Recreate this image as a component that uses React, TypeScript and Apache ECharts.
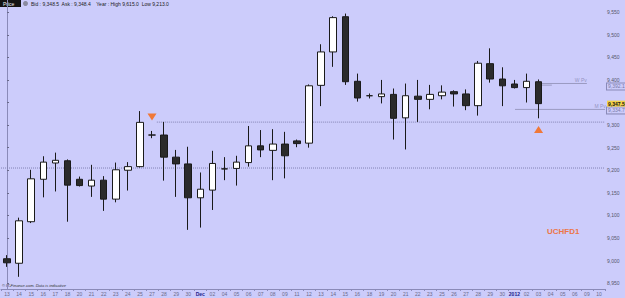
import React, { useEffect, useRef } from "react";
import * as echarts from "echarts";

// ---- data ----
const dates = [
  "13", "14", "15", "16", "17", "18", "20", "21", "22", "23", "24", "25", "27", "28", "29", "30",
  "Dec", "02", "04", "05", "06", "07", "08", "09", "11", "12", "13", "14", "15", "16", "18", "19",
  "20", "21", "22", "23", "25", "26", "27", "28", "29", "30", "2012", "02", "03", "04", "05", "06", "09", "10",
];

// [open, close, low, high]
const candles = [
  [9004, 8995, 8986, 9012],
  [8994, 9088, 8964, 9095],
  [9086, 9181, 9083, 9201],
  [9180, 9218, 9140, 9231],
  [9216, 9222, 9153, 9239],
  [9221, 9167, 9086, 9224],
  [9180, 9166, 9164, 9186],
  [9165, 9178, 9141, 9212],
  [9178, 9136, 9110, 9187],
  [9136, 9201, 9129, 9217],
  [9200, 9208, 9155, 9218],
  [9208, 9306, 9206, 9331],
  [9278, 9278, 9271, 9287],
  [9278, 9229, 9177, 9307],
  [9229, 9214, 9141, 9245],
  [9214, 9139, 9068, 9252],
  [9139, 9158, 9073, 9195],
  [9156, 9215, 9112, 9243],
  [9203, 9203, 9178, 9229],
  [9204, 9218, 9166, 9232],
  [9217, 9254, 9208, 9298],
  [9254, 9245, 9229, 9289],
  [9244, 9258, 9178, 9291],
  [9258, 9232, 9182, 9285],
  [9265, 9259, 9251, 9268],
  [9260, 9387, 9250, 9390],
  [9388, 9462, 9342, 9479],
  [9462, 9538, 9429, 9541],
  [9540, 9396, 9389, 9547],
  [9397, 9360, 9352, 9414],
  [9365, 9365, 9359, 9370],
  [9363, 9369, 9348, 9400],
  [9368, 9315, 9268, 9381],
  [9316, 9365, 9246, 9392],
  [9364, 9357, 9307, 9400],
  [9357, 9368, 9335, 9389],
  [9365, 9373, 9357, 9388],
  [9374, 9369, 9341, 9377],
  [9369, 9343, 9333, 9379],
  [9343, 9437, 9321, 9442],
  [9436, 9402, 9394, 9470],
  [9402, 9387, 9342, 9428],
  [9391, 9383, 9381, 9400],
  [9383, 9397, 9350, 9414],
  [9396, 9347.5, 9315, 9401],
];

const yTicks = [8950, 9000, 9050, 9100, 9150, 9200, 9250, 9300, 9350, 9400, 9450, 9500, 9550];
// 9,350 is hidden behind the last-price tag in the reference
const yLabels = [8950, 9000, 9050, 9100, 9150, 9200, 9250, 9300, 9400, 9450, 9500, 9550];

const lastPrice = 9347.5;
const weeklyPivot = 9392.1;
const monthlyPivot = 9334.7;

// level lines, x in category-index units
const resistanceLine = [[12.4, 9306.6], [49.5, 9306.6]];
const supportLine = [[-0.5, 9204.9], [49.5, 9204.9]];
const wPivotLine = [[43.95, weeklyPivot], [48.0, weeklyPivot]];
const wShortLine = [[43.95, 9388.5], [45.1, 9388.5]];
const mPivotLine = [[42.05, monthlyPivot], [49.5, monthlyPivot]];
const pivotLabels = [
  { value: [47.5, 9399.6], text: "W Pv" },
  { value: [49.1, 9342.7], text: "M Pv" },
];

// signals: [category index, value]
const sellSignal = [12, 9318];
const buySignal = [44, 9290];

const FONT = "'Liberation Sans', Arial, sans-serif";
const BG = "#CCCCFB";
const fmt = (v: number, d = 0) =>
  v.toLocaleString("en-US", { minimumFractionDigits: d, maximumFractionDigits: d });

function levelSeries(data: number[][], color: string, type: string) {
  return {
    type: "line",
    xAxisIndex: 1,
    yAxisIndex: 0,
    data,
    symbol: "none",
    silent: true,
    lineStyle: { color, width: 1, type },
    z: 1,
  };
}

export default function App() {
  const ref = useRef<HTMLDivElement>(null);
  useEffect(() => {
    if (!ref.current) return;
    const chart = echarts.init(ref.current, null, { renderer: "svg" });
    chart.setOption({
      animation: false,
      backgroundColor: BG,
      textStyle: { fontFamily: FONT },
      grid: { left: 1, top: 0, width: 604, height: 289, containLabel: false },
      xAxis: [
        {
          type: "category",
          data: dates,
          boundaryGap: true,
          axisLine: { lineStyle: { color: "#8A8AB8" } },
          axisTick: { show: true, interval: 0, length: 2, lineStyle: { color: "#8A8AB8" } },
          axisLabel: {
            interval: 0,
            fontSize: 5,
            color: "#6a6a8a",
            margin: 2,
            fontFamily: FONT,
            formatter: (v: string) => (v === "Dec" || v === "2012" ? `{h|${v}}` : v),
            rich: { h: { fontSize: 5, color: "#22228a", fontWeight: "bold", fontFamily: FONT } },
          },
          splitLine: { show: false },
        },
        { type: "value", min: -0.5, max: 49.5, show: false },
      ],
      yAxis: {
        type: "value",
        position: "right",
        min: 8937,
        max: 9577,
        axisLine: { show: true, lineStyle: { color: "#8A8AB8" } },
        axisTick: { show: true, length: 2, customValues: yTicks, lineStyle: { color: "#6a6a8a" } },
        axisLabel: {
          customValues: yLabels,
          fontSize: 5,
          color: "#55556a",
          margin: 2,
          fontFamily: FONT,
          formatter: (v: number) => fmt(v),
        },
        splitLine: { show: false },
      },
      series: [
        levelSeries(supportLine, "#8484b4", "dotted"),
        levelSeries(resistanceLine, "#8484b4", "dotted"),
        levelSeries(wPivotLine, "#9a9ac2", "solid"),
        levelSeries(wShortLine, "#9a9ac2", "solid"),
        levelSeries(mPivotLine, "#9a9ac2", "solid"),
        {
          type: "scatter",
          xAxisIndex: 1,
          yAxisIndex: 0,
          symbolSize: 0,
          silent: true,
          data: pivotLabels.map((p) => ({ value: p.value, name: p.text })),
          label: {
            show: true,
            position: "inside",
            formatter: (p: any) => p.name,
            fontSize: 5,
            color: "#8585b0",
            fontFamily: FONT,
          },
        },
        {
          type: "candlestick",
          xAxisIndex: 0,
          yAxisIndex: 0,
          data: candles,
          barWidth: 7,
          z: 3,
          itemStyle: {
            color: "#ffffff",
            color0: "#2b2b2b",
            borderColor: "#1a1a1a",
            borderColor0: "#1a1a1a",
            borderWidth: 1,
          },
          markPoint: {
            silent: true,
            symbol: "triangle",
            symbolSize: [9, 7],
            itemStyle: { color: "#F07838" },
            label: { show: false },
            data: [
              { coord: sellSignal, symbolRotate: 180 },
              { coord: buySignal },
            ],
          },
          markLine: {
            silent: true,
            symbol: "none",
            lineStyle: { color: "rgba(0,0,0,0)", width: 0 },
            label: {
              show: true,
              position: "end",
              distance: 2,
              fontSize: 5,
              fontFamily: FONT,
              padding: [1, 1, 0, 1],
              opacity: 1,
            },
            data: [
              {
                yAxis: weeklyPivot,
                label: {
                  formatter: fmt(weeklyPivot, 1),
                  color: "#7a7aa8",
                  borderColor: "#8a8ab8",
                  borderWidth: 1,
                  backgroundColor: BG,
                  offset: [0, 3],
                },
              },
              {
                yAxis: monthlyPivot,
                label: {
                  formatter: fmt(monthlyPivot, 1),
                  color: "#7a7aa8",
                  borderColor: "#8a8ab8",
                  borderWidth: 1,
                  backgroundColor: BG,
                  offset: [0, 1],
                },
              },
              {
                yAxis: lastPrice,
                label: {
                  formatter: fmt(lastPrice, 1),
                  color: "#111",
                  fontWeight: "bold",
                  backgroundColor: "#F2D24A",
                },
              },
            ],
          },
        },
      ],
      graphic: [
        { type: "rect", left: 0, top: 0, shape: { width: 21, height: 7 }, style: { fill: "#141414" } },
        {
          type: "text",
          left: 3,
          top: 1,
          style: { text: "Price", fill: "#eeeeee", font: `5px ${FONT}` },
        },
        { type: "circle", left: 23, top: 1, shape: { r: 2.5 }, style: { fill: "#8a8aa0" } },
        {
          type: "text",
          left: 31,
          top: 1.5,
          style: {
            text: "Bid : 9,348.5  Ask : 9,348.4    Year : High 9,615.0  Low 9,213.0",
            fill: "#222",
            font: `5px ${FONT}`,
          },
        },
        {
          type: "text",
          left: 2,
          top: 283.5,
          style: {
            text: "© IT-Finance.com. Data is indicative",
            fill: "#333",
            font: `italic 4px ${FONT}`,
          },
        },
        {
          type: "text",
          left: 547,
          top: 227,
          style: { text: "UCHFD1", fill: "#EC7648", font: `bold 8px ${FONT}` },
        },
      ],
    });
    return () => chart.dispose();
  }, []);
  return (
    <div
      ref={ref}
      style={{ position: "fixed", left: 0, top: 0, width: 625, height: 298 }}
    />
  );
}
